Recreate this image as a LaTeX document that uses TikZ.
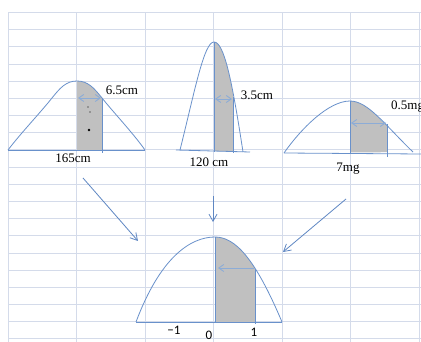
\documentclass[tikz,border=0pt]{standalone}
\usepackage{fontspec}
\setmainfont{Liberation Serif}
\newfontfamily\calib{Carlito}
\usetikzlibrary{arrows.meta}
\definecolor{gridc}{RGB}{212,219,234}
\definecolor{curvec}{RGB}{105,145,203}
\definecolor{shadec}{RGB}{192,192,192}
\definecolor{arrc}{RGB}{95,135,195}
\definecolor{darrc}{RGB}{140,172,215}
\begin{document}
\begin{tikzpicture}[x=1pt,y=-1pt,
 gridline/.style={gridc,line width=1pt},
 curve/.style={curvec,line width=0.8pt},
 shadefill/.style={fill=shadec},
 bigarrow/.style={arrc,line width=0.8pt,-{Straight Barb[length=7pt,width=8pt]}},
 widtharrow/.style={darrc,line width=0.9pt,{Straight Barb[length=5pt,width=7pt]}-{Straight Barb[length=5pt,width=7pt]}},
 leftarrow/.style={darrc,line width=0.9pt,{Straight Barb[length=5pt,width=7pt]}-},
 lbl/.style={font=\fontsize{13}{15}\selectfont,inner sep=0pt},
 axl/.style={font=\calib\fontsize{13}{15}\selectfont,inner sep=0pt}]
\useasboundingbox[fill=white] (0,0) rectangle (421,342);
% grid
\foreach \k in {0,...,19} \draw[gridline] (8,12.5+17.18*\k) -- (421,12.5+17.18*\k);
\foreach \k in {0,...,6} \draw[gridline] (8+68.5*\k,12.5) -- (8+68.5*\k,342);

% ---------- curve 1 ----------
\begin{scope}
\clip (8,150) .. controls (21,133) and (40,113) .. (52,98) .. controls (60,88) and (66,81) .. (77,81) .. controls (88,81) and (94,88) .. (102,98) .. controls (114,113) and (133,133) .. (145,150) -- cycle;
\fill[shadefill] (77,0) rectangle (102,150);
\end{scope}
\draw[curve] (8,150) .. controls (21,133) and (40,113) .. (52,98) .. controls (60,88) and (66,81) .. (77,81) .. controls (88,81) and (94,88) .. (102,98) .. controls (114,113) and (133,133) .. (145,150);
\draw[curve] (8,150) -- (145,150);
\draw[curve] (102,98) -- (102,153);
\fill (89,130) circle (1.3);
\fill (88,107) circle (0.6);
\fill (90,112) circle (0.6);
\coordinate (w1a) at (78,98);
\coordinate (w1b) at (101,98);
\draw[widtharrow] (w1a) -- (w1b);
\node[lbl] (l65) at (122,90) {6.5cm};
\node[lbl] (l165) at (73,158) {165cm};

% ---------- curve 2 ----------
\begin{scope}
\clip (180,150) .. controls (195,90) and (204,42) .. (214,42) .. controls (224,42) and (232,80) .. (243,152) -- cycle;
\fill[shadefill] (214,0) rectangle (233,152);
\end{scope}
\draw[curve] (180,150) .. controls (195,90) and (204,42) .. (214,42) .. controls (224,42) and (232,80) .. (243,152);
\draw[curve] (176,150) -- (250,152);
\draw[curve] (214,42) -- (214,152);
\draw[curve] (233,97) -- (233,153);
\coordinate (w2a) at (215,99);
\coordinate (w2b) at (232,99);
\draw[widtharrow] (w2a) -- (w2b);
\node[lbl] (l35) at (257,95) {3.5cm};
\node[lbl] (l120) at (209,162) {120 cm};

% ---------- curve 3 ----------
\begin{scope}
\clip (284,153) .. controls (300,130) and (328,101) .. (350,101) .. controls (368,101) and (385,125) .. (413,152) -- cycle;
\fill[shadefill] (350,0) rectangle (387,154);
\end{scope}
\draw[curve] (284,153) .. controls (300,130) and (328,101) .. (350,101) .. controls (368,101) and (385,125) .. (413,152);
\draw[curve] (284,153) -- (421,154);
\draw[curve] (350,101) -- (350,154);
\draw[curve] (387,124) -- (387,157);
\coordinate (w3a) at (351,123);
\coordinate (w3b) at (386,123);
\draw[widtharrow] (w3a) -- (w3b);
\node[lbl,anchor=west] (l05) at (391,107) {0.5mg};
\node[lbl] (l7) at (348,169) {7mg};

% ---------- curve 4 ----------
\begin{scope}
\clip (136,322) .. controls (160,258) and (190,237) .. (215,237) .. controls (235,237) and (255,258) .. (282,322) -- cycle;
\fill[shadefill] (215,0) rectangle (255,322);
\end{scope}
\draw[curve] (136,322) .. controls (160,258) and (190,237) .. (215,237) .. controls (235,237) and (255,258) .. (282,322);
\draw[curve] (136,322) -- (282,322);
\draw[curve] (215,237) -- (215,322);
\draw[curve] (255,269) -- (255,324);
\coordinate (w4a) at (218,268);
\coordinate (w4b) at (254,268);
\draw[leftarrow] (w4a) -- (w4b);
\node[axl] (am1) at (174,330) {−1};
\node[axl] (a0) at (209,335) {0};
\node[axl] (a1) at (254,332) {1};

% ---------- big arrows ----------
\coordinate (s1) at (83,178);
\coordinate (e1) at (138,241);
\coordinate (s2) at (213,196);
\coordinate (e2) at (213,222);
\coordinate (s3) at (346,199);
\coordinate (e3) at (283,252);
\draw[bigarrow] (s1) -- (e1);
\draw[bigarrow] (s2) -- (e2);
\draw[bigarrow] (s3) -- (e3);
\end{tikzpicture}
\end{document}
